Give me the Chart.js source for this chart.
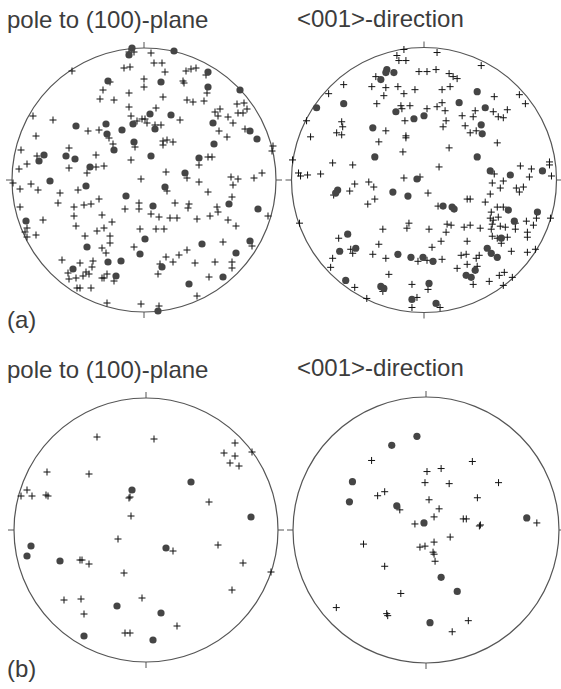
<!DOCTYPE html>
<html>
<head>
<meta charset="utf-8">
<script src="https://cdn.jsdelivr.net/npm/chart.js@4/dist/chart.umd.min.js"></script>
<style>
    html, body { margin: 0; padding: 0; background: #fff; overflow: hidden; }
    body { width: 561px; height: 689px; position: relative; }
    canvas { position: absolute; }
    .label {
        position: absolute;
        font-family: "Liberation Sans", Arial, sans-serif;
        font-size: 24px;
        line-height: 24px;
        color: #3c3c3c;
        white-space: nowrap;
    }
</style>
</head>
<body>
<div class="label" style="left:7px; top:8px;">pole to (100)-plane</div>
<div class="label" style="left:297px; top:7px;">&lt;001&gt;-direction</div>
<div class="label" style="left:7px; top:308px;">(a)</div>
<div class="label" style="left:7px; top:358px;">pole to (100)-plane</div>
<div class="label" style="left:297px; top:356px;">&lt;001&gt;-direction</div>
<div class="label" style="left:7px; top:657px;">(b)</div>

<canvas id="aPole" width="300" height="300"></canvas>
<canvas id="aDir" width="300" height="300"></canvas>
<canvas id="bPole" width="300" height="300"></canvas>
<canvas id="bDir" width="300" height="300"></canvas>

<script>
// projected positions, net radius = 132 units (x east, y north)
const NET_R = 132;

// (a) pole to (100)-plane
const aPoleDots = [
    [-12,132],[-15,125],[30,129],[64,108],[-36,99],[17,98],[64,93],[96,90],[6,66],[27,65],
    [-38,56],[-11,56],[11,51],[69,57],[-68,54],[-37,46],[-22,50],[106,49],[113,41],[-10,38],
    [70,36],[-30,30],[-100,25],[-105,19],[-78,24],[-69,21],[7,24],[55,22],[-54,13],[41,7],
    [-94,-1],[-58,-6],[21,-7],[-18,-16],[9,-26],[85,-24],[114,-29],[-118,-41],[1,-59],[-57,-67],
    [-4,-74],[58,-64],[106,-61],[92,-73],[-36,-82],[-23,-81],[18,-87],[-71,-89],[-28,-96],[79,-97],
    [45,-104],[14,-131]
];
const aPoleCrosses = [
    [-15,128],[-10,128],[7,127],[10,117],[18,117],[-72,109],[-20,112],[-14,113],[21,108],[42,109],
    [47,111],[52,112],[62,105],[-34,98],[0,101],[39,99],[40,97],[0,93],[63,87],[-41,90],
    [-15,87],[-44,81],[-30,80],[19,83],[43,80],[49,78],[60,79],[93,76],[100,77],[-15,73],
    [12,72],[103,71],[71,68],[76,71],[94,67],[99,67],[-111,64],[-91,60],[-13,64],[74,64],
    [84,63],[36,60],[-7,59],[-2,61],[1,61],[3,57],[11,55],[17,55],[89,57],[-56,49],
    [-45,50],[-35,42],[75,49],[101,51],[-108,44],[83,43],[19,39],[23,40],[29,38],[19,35],
    [-9,33],[-31,36],[-123,30],[-75,32],[129,34],[128,29],[-107,24],[-48,25],[64,23],[68,23],
    [-13,20],[-117,16],[55,15],[-125,11],[-48,13],[-40,14],[-75,12],[22,8],[-57,7],[118,7],
    [-131,-3],[-124,-9],[-113,-4],[-106,-10],[-3,1],[43,2],[55,-2],[87,3],[94,1],[110,2],
    [-66,-10],[23,-11],[64,-12],[89,-5],[-84,-13],[-45,-19],[88,-17],[-86,-23],[-70,-27],[-60,-25],
    [-53,-24],[-5,-23],[-5,-29],[31,-23],[45,-24],[44,-28],[73,-27],[74,-32],[-124,-27],[-19,-29],
    [7,-34],[15,-37],[26,-38],[33,-38],[53,-39],[66,-36],[124,-36],[-101,-40],[-70,-36],[-68,-46],
    [-42,-35],[-32,-42],[84,-40],[92,-46],[-117,-48],[-119,-52],[-117,-57],[-108,-55],[-47,-51],[-40,-48],
    [-4,-49],[12,-49],[20,-49],[-59,-56],[-34,-56],[-34,-63],[-42,-68],[-38,-73],[-10,-67],[79,-62],
    [108,-66],[22,-77],[29,-82],[35,-75],[43,-70],[-82,-80],[-64,-83],[-51,-81],[-52,-87],[16,-84],
    [51,-83],[71,-82],[88,-82],[88,-88],[-76,-93],[-75,-99],[-68,-98],[-61,-96],[-58,-92],[-55,-94],
    [-42,-98],[-40,-98],[-37,-94],[-30,-101],[14,-94],[65,-97],[-67,-108],[-64,-108],[-53,-108],[53,-116],
    [-37,-123],[-3,-124],[15,-126]
];

// (a) <001>-direction
const aDirDots = [
    [-37,110],[-38,107],[-30,107],[-43,100],[53,88],[-80,76],[-107,72],[35,77],[61,72],[-28,68],
    [-10,61],[0,64],[57,55],[58,46],[-51,52],[-49,23],[53,23],[66,9],[86,5],[118,9],
    [-7,1],[-86,-10],[-88,-13],[-31,-12],[-16,-16],[19,-26],[28,-27],[30,-29],[84,-30],[113,-32],
    [90,-41],[-76,-54],[77,-58],[-68,-68],[-84,-71],[-26,-74],[-13,-77],[-1,-77],[9,-81],[63,-68],
    [67,-73],[73,-77],[42,-95],[47,-97],[51,-90],[-78,-100],[-43,-106],[-40,-108],[5,-103],[-12,-119],
    [12,-123]
];
const aDirCrosses = [
    [-20,130],[13,127],[-27,124],[-25,119],[-18,119],[57,114],[-5,108],[3,108],[12,110],[25,106],
    [29,103],[33,101],[-48,103],[-80,95],[-52,93],[-38,92],[-26,93],[-9,90],[18,90],[26,93],
    [-95,86],[-20,86],[-40,84],[70,83],[95,85],[101,76],[-47,76],[-23,74],[-22,71],[-14,74],
    [3,71],[13,73],[18,77],[21,69],[51,69],[69,68],[74,63],[79,62],[83,70],[38,64],
    [49,63],[-117,59],[-82,58],[-81,53],[-87,47],[-82,45],[-19,59],[22,59],[19,53],[41,54],
    [46,47],[52,49],[-38,49],[-18,44],[-18,42],[-113,43],[-45,38],[73,37],[25,32],[-21,28],
    [-131,20],[-91,17],[-71,15],[15,13],[96,14],[107,11],[125,18],[125,15],[105,3],[127,4],
    [70,6],[-125,7],[-123,4],[-116,5],[-103,6],[-20,2],[-4,3],
    [-69,-4],[-55,-2],[-50,-7],[-90,-15],[-74,-11],[-49,-19],[-56,-24],[4,-13],[79,-1],[76,-8],
    [68,-3],[92,-8],[95,-12],[99,-7],[66,-14],[43,-19],[46,-19],[61,-22],[14,-26],[67,-32],
    [73,-27],[79,-27],[66,-38],[69,-40],[74,-37],[68,-44],[76,-46],[81,-47],[91,-43],[91,-49],
    [102,-41],[112,-38],[126,-38],[109,-45],[103,-52],[103,-57],[-124,-43],[-41,-49],[-15,-43],[-17,-48],
    [5,-49],[23,-44],[27,-45],[22,-52],[40,-47],[46,-45],[56,-48],[67,-49],[68,-56],[73,-58],
    [83,-57],[77,-63],[-85,-58],[-45,-64],[17,-61],[43,-61],[8,-67],[-73,-69],[-71,-73],[-51,-74],
    [-38,-78],[-91,-78],[-93,-87],[-6,-81],[3,-80],[18,-79],[37,-75],[42,-74],[52,-78],[55,-75],
    [87,-71],[103,-72],[111,-69],[33,-88],[43,-84],[53,-86],[-35,-94],[49,-104],[65,-101],[75,-95],
    [80,-92],[88,-97],[79,-105],[-69,-107],[-12,-104],[4,-109],[-41,-111],[-57,-118],[-7,-117],[-12,-127],
    [16,-127]
];

// (b) pole to (100)-plane
const bPoleDots = [
    [-14,40],[45,48],[105,13],[-115,-16],[-119,-26],[-86,-31],[20,-18],[-29,-76],[15,-83],[-62,-106],
    [7,-110]
];
const bPoleCrosses = [
    [-49,93],[8,91],[89,87],[78,77],[89,74],[84,67],[93,64],[106,78],[-99,58],[-57,56],
    [-119,40],[-125,34],[-114,34],[-100,35],[-98,34],[-17,32],[-16,33],[63,28],[-15,14],[-28,-9],
    [72,-15],[27,-21],[-66,-30],[-64,-30],[-57,-34],[97,-33],[125,-42],[-22,-43],[-82,-70],[-65,-69],
    [86,-60],[-4,-68],[-62,-84],[31,-96],[-21,-103],[-16,-103]
];

// (b) <001>-direction
const bDirDots = [
    [-9,93],[-34,84],[-73,48],[-76,28],[-29,24],[-2,7],[100,12],[15,-47],[31,-61],[4,-92]
];
const bDirCrosses = [
    [-54,69],[46,68],[1,58],[15,61],[-1,47],[23,46],[72,47],[-48,34],[-41,38],[51,32],
    [3,30],[-26,20],[13,21],[8,13],[37,11],[40,11],[53,4],[54,5],[-11,6],[110,7],
    [24,-7],[8,-12],[-62,-14],[-6,-17],[-1,-16],[7,-22],[8,-24],[9,-31],[-41,-36],[-25,-63],
    [-89,-77],[-39,-83],[-38,-85],[42,-90],[26,-101]
];

const CANVAS_SIZE = 300;
const toXY = arr => arr.map(p => ({ x: p[0], y: p[1] }));

// primitive circle + N/E/S/W ticks, drawn from the scales
const netOutline = {
    id: 'netOutline',
    beforeDatasetsDraw(chart) {
        const { ctx, scales } = chart;
        const cx = scales.x.getPixelForValue(0);
        const cy = scales.y.getPixelForValue(0);
        const r = scales.x.getPixelForValue(NET_R) - cx;
        const tick = 6;
        ctx.save();
        ctx.strokeStyle = '#555';
        ctx.lineWidth = 1.2;
        ctx.beginPath();
        ctx.arc(cx, cy, r, 0, Math.PI * 2);
        ctx.stroke();
        ctx.lineWidth = 1;
        ctx.beginPath();
        ctx.moveTo(cx, cy - r); ctx.lineTo(cx, cy - r - tick);
        ctx.moveTo(cx, cy + r); ctx.lineTo(cx, cy + r + tick);
        ctx.moveTo(cx - r, cy); ctx.lineTo(cx - r - tick, cy);
        ctx.moveTo(cx + r, cy); ctx.lineTo(cx + r + tick, cy);
        ctx.stroke();
        ctx.restore();
    }
};

function drawNet(id, centre, radius, dots, crosses) {
    const el = document.getElementById(id);
    el.style.left = (centre[0] - CANVAS_SIZE / 2) + 'px';
    el.style.top = (centre[1] - CANVAS_SIZE / 2) + 'px';
    const pad = CANVAS_SIZE / 2 - radius;

    new Chart(el, {
        type: 'scatter',
        data: {
            datasets: [{
                data: toXY(dots),
                pointStyle: 'circle',
                pointRadius: 3.6,
                backgroundColor: '#454545',
                borderColor: '#454545',
                borderWidth: 0,
                clip: false,
                order: 1
            }, {
                data: toXY(crosses),
                pointStyle: 'cross',
                pointRadius: 3.5,
                borderColor: '#111',
                borderWidth: 1,
                clip: false,
                order: 2
            }]
        },
        options: {
            responsive: false,
            animation: false,
            events: [],
            layout: { padding: pad },
            plugins: {
                legend: { display: false },
                tooltip: { enabled: false }
            },
            scales: {
                x: { type: 'linear', min: -NET_R, max: NET_R, display: false },
                y: { type: 'linear', min: -NET_R, max: NET_R, display: false }
            }
        },
        plugins: [netOutline]
    });
}

drawNet('aPole', [144, 180], 132, aPoleDots, aPoleCrosses);
drawNet('aDir', [424, 180], 132.5, aDirDots, aDirCrosses);
drawNet('bPole', [146, 530], 132, bPoleDots, bPoleCrosses);
drawNet('bDir', [426, 530], 133, bDirDots, bDirCrosses);
</script>
</body>
</html>
